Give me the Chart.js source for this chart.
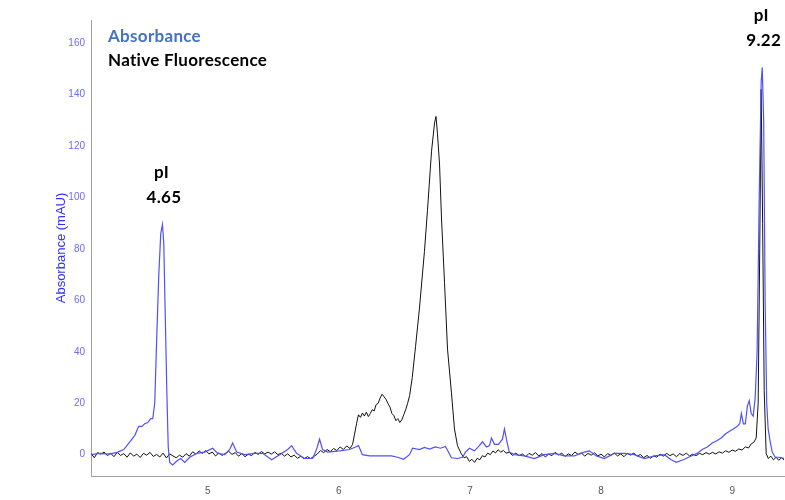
<!DOCTYPE html>
<html>
<head>
<meta charset="utf-8">
<script src="https://cdn.jsdelivr.net/npm/chart.js@4"></script>
<style>
  html, body { margin: 0; padding: 0; background: #fff; }
  .wrap { position: relative; width: 785px; height: 500px; }
</style>
</head>
<body>
<div class="wrap"><canvas id="chart-ief"></canvas></div>
<script>
// pI axis (x) and signal values
var absX = [4.11, 4.177, 4.253, 4.314, 4.36, 4.406, 4.444, 4.474, 4.497, 4.52, 4.543, 4.566, 4.581, 4.596, 4.611, 4.627, 4.642, 4.655, 4.665, 4.676, 4.688, 4.699, 4.71, 4.733, 4.764, 4.794, 4.825, 4.863, 4.916, 4.977, 5.038, 5.076, 5.13, 5.168, 5.19, 5.221, 5.282, 5.358, 5.419, 5.488, 5.549, 5.61, 5.64, 5.678, 5.739, 5.80, 5.83, 5.853, 5.876, 5.914, 6.006, 6.082, 6.128, 6.15, 6.18, 6.234, 6.31, 6.402, 6.448, 6.494, 6.539, 6.562, 6.615, 6.653, 6.691, 6.737, 6.775, 6.813, 6.836, 6.859, 6.905, 6.943, 6.966, 6.996, 7.034, 7.072, 7.095, 7.126, 7.149, 7.164, 7.187, 7.217, 7.248, 7.263, 7.278, 7.30, 7.339, 7.415, 7.491, 7.568, 7.644, 7.72, 7.796, 7.872, 7.91, 7.964, 8.025, 8.101, 8.178, 8.254, 8.33, 8.41, 8.482, 8.535, 8.573, 8.627, 8.688, 8.733, 8.771, 8.81, 8.848, 8.886, 8.916, 8.947, 8.977, 9.008, 9.038, 9.057, 9.07, 9.085, 9.10, 9.116, 9.13, 9.145, 9.16, 9.175, 9.19, 9.206, 9.221, 9.229, 9.24, 9.251, 9.263, 9.274, 9.29, 9.305, 9.328, 9.358, 9.396];
var absY = [0, 0.5, 0.2, 1, 2, 5, 7.5, 11, 11, 12, 12.5, 14, 14, 20, 45, 70, 86, 89.5, 82, 55, 25, 3, -3, -4, -2.5, -1.5, -3, -1, 0.5, 1, 2.5, 0.5, 0, 2, 4.5, 1, 0, 0.5, 0.5, -2, 0, 2, 3.5, 0.5, -1.5, -1.5, 2, 6, 2, 1, 1.5, 2, 3, 3.5, 0, -0.5, -0.5, -0.5, -1, -1.8, 0, 2.5, 2, 2.8, 2.2, 3, 2.5, 3.2, 1, -1.2, -1.5, -1, 1, 2.5, 1.5, 3.5, 5, 3, 3.5, 6.5, 4, 4, 6, 10, 6, 1, 0, -0.5, -1.5, 0, 0.5, -0.5, -0.5, 1, 1.5, -0.5, -1.5, 0.5, 0.5, 0, -1.5, -0.5, 0, -2, -3, -2, -0.5, 0.5, 2, 3, 4.5, 5.5, 6.5, 8, 9, 10, 11, 12, 16, 12, 12, 19, 21, 16, 15, 22, 40, 100, 145, 150.5, 130, 60, 20, 10, 5, 1, -1, -1, -1.5];

var fluX = [4.11, 4.135, 4.16, 4.185, 4.21, 4.235, 4.26, 4.285, 4.31, 4.335, 4.36, 4.385, 4.41, 4.435, 4.46, 4.485, 4.51, 4.535, 4.56, 4.585, 4.61, 4.635, 4.66, 4.685, 4.71, 4.735, 4.76, 4.785, 4.81, 4.835, 4.86, 4.885, 4.91, 4.935, 4.96, 4.985, 5.01, 5.035, 5.06, 5.085, 5.11, 5.135, 5.16, 5.185, 5.21, 5.235, 5.26, 5.285, 5.31, 5.335, 5.36, 5.385, 5.41, 5.435, 5.46, 5.485, 5.51, 5.535, 5.56, 5.585, 5.61, 5.635, 5.66, 5.685, 5.71, 5.735, 5.76, 5.785, 5.81, 5.835, 5.86, 5.885, 5.91, 5.935, 5.96, 5.985, 6.01, 6.035, 6.06, 6.085, 6.105,
  6.12, 6.135, 6.15, 6.165, 6.18, 6.195, 6.21, 6.225, 6.24, 6.255, 6.27, 6.285, 6.30, 6.315, 6.33, 6.345, 6.36, 6.375, 6.39, 6.405, 6.42, 6.435, 6.45, 6.465, 6.48, 6.495, 6.51, 6.525, 6.54, 6.56, 6.585, 6.615, 6.653, 6.676, 6.707, 6.73, 6.741, 6.752, 6.768, 6.783, 6.806, 6.829, 6.859, 6.882, 6.905, 6.935, 6.955, 6.975, 6.995, 7.015, 7.035, 7.055, 7.075, 7.095, 7.115, 7.135, 7.155, 7.175, 7.195, 7.215, 7.235, 7.255, 7.275, 7.30,
  7.325, 7.35, 7.375, 7.40, 7.425, 7.45, 7.475, 7.50, 7.525, 7.55, 7.575, 7.60, 7.625, 7.65, 7.675, 7.70, 7.725, 7.75, 7.775, 7.80, 7.825, 7.85, 7.875, 7.90, 7.925, 7.95, 7.975, 8.00, 8.025, 8.05, 8.075, 8.10, 8.125, 8.15, 8.175, 8.20, 8.225, 8.25, 8.275, 8.30, 8.325, 8.35, 8.375, 8.40, 8.425, 8.45, 8.475, 8.50, 8.525, 8.55, 8.575, 8.60, 8.625, 8.65, 8.675, 8.70, 8.725, 8.75, 8.775, 8.80, 8.825, 8.85, 8.875, 8.90, 8.925, 8.95, 8.975, 9.00, 9.025, 9.05, 9.075, 9.10, 9.125, 9.145, 9.165, 9.183, 9.198, 9.21, 9.221, 9.232, 9.244, 9.259, 9.275, 9.295, 9.315, 9.335, 9.355, 9.375, 9.395];
var fluY = [0.5, -1.2, 0.8, 0.2, 1.0, -0.4, 0.6, -0.8, 0.9, -0.3, 0.4, -1.0, 0.7, -0.6, 0.2, -1.1, 0.5, -0.2, 0.9, -0.7, 0.1, -0.9, 0.6, -1.3, 0.3, -0.5, -1.2, -0.2, -1.0, 0.4, -0.6, 1.1, 0.2, 1.4, 0.5, 1.6, 0.3, 1.0, -0.5, 0.7, -0.3, 0.5, 1.3, 0.1, 0.8, -0.6, 0.4, -0.8, 0.2, -0.4, 0.9, 0.1, 1.2, 0.3, 1.0, 0.2, 1.1, 0.0, 0.6, -0.6, 0.3, -0.9, -0.2, -1.4, -0.6, -1.6, -0.8, -1.5, -0.7, 0.2, 1.6, 0.8, 2.0, 1.2, 2.4, 1.6, 3.0, 2.0, 3.4, 2.4, 4.0,
  8, 12, 15.5, 14.5, 16.2, 15, 16.5, 14.8, 16, 17.5, 17, 19.5, 20, 22, 23.5, 22.5, 21.5, 19.8, 18.5, 16, 15.2, 13.2, 14, 12.5, 13.5, 15.5, 17.5, 20, 23, 30, 42, 57, 79, 95, 118, 129, 131.5, 125, 113, 92, 67, 41, 24, 10, 3.5, 0.2, -1.2, -0.8, -2.6, -1.8, -3.0, -1.4, -2.0, -0.4, -0.9, 0.6, 0.0, 1.4, 0.7, 1.9, 1.0, 1.6, 0.6, 0.9,
  -0.3, 0.6, -0.4, 0.3, -0.8, 0.5, -0.2, 0.8, -0.5, 0.4, -0.9, 0.2, -0.4, 0.9, -0.1, 0.6, -0.7, 0.3, -0.3, 1.0, 0.1, 0.7, -0.6, 0.5, -0.2, 0.8, -0.5, 0.2, -0.9, 0.4, -0.3, 0.7, -0.5, 0.3, -0.8, 0.5, -0.2, 0.6, -0.6, 0.1, -1.2, -0.3, -1.4, -0.5, -1.0, 0.2, -0.6, 0.5, -0.4, 0.3, -0.8, 0.4, -0.3, 0.6, -0.5, 0.2, -0.4, 0.5, 0.0, 0.8, 0.2, 0.9, 0.3, 1.1, 0.6, 1.5, 0.9, 1.8, 1.3, 2.2, 1.8, 3.0, 2.6, 4.2, 4.8, 6.5, 20, 80, 142, 90, 25, 0.5, -1.5, -0.6, -2.0, -1.0, -2.2, -1.2, -2.0];

var seriesNames = ['Absorbance', 'Native Fluorescence'];
var peakX = [4.655, 9.229];
var peakY = [89.5, 150.5];
var peakText = ['4.65', '9.22'];

(function () {
  var canvas = document.getElementById('chart-ief');
  if (!canvas || typeof Chart === 'undefined') {
    return;
  }

  var labelFont = 'bold 17px Lato, "Open Sans", sans-serif';

  function toPoints(xs, ys) {
    return xs.map(function (x, i) {
      return { x: x, y: ys[i] };
    });
  }

  function keepSteps(step) {
    return function (scale) {
      scale.ticks = scale.ticks.filter(function (t) {
        return Math.abs(t.value / step - Math.round(t.value / step)) < 1e-6;
      });
    };
  }

  // series names top-left, pI callouts above the two marker peaks
  var textPlugin = {
    id: 'iefText',
    afterDatasetsDraw: function (chart) {
      var ctx = chart.ctx;
      var area = chart.chartArea;
      var xs = chart.scales.x;
      var ys = chart.scales.y;
      ctx.save();
      ctx.font = labelFont;
      if ('letterSpacing' in ctx) {
        ctx.letterSpacing = '0.3px';
      }
      ctx.textBaseline = 'middle';
      ctx.textAlign = 'left';
      ctx.fillStyle = '#4472c4';
      ctx.fillText(seriesNames[0], area.left + 17, area.top + 17);
      ctx.fillStyle = '#000';
      ctx.fillText(seriesNames[1], area.left + 17, area.top + 41);
      ctx.textAlign = 'center';
      peakX.forEach(function (px, i) {
        var cx = xs.getPixelForValue(px);
        var cy = ys.getPixelForValue(peakY[i]);
        ctx.fillText('pI', cx - 1, cy - 52);
        ctx.fillText(peakText[i], cx + 1.5, cy - 27);
      });
      ctx.restore();
    },
  };

  new Chart(canvas, {
    type: 'line',
    data: {
      datasets: [
        {
          label: seriesNames[0],
          data: toPoints(absX, absY),
          borderColor: '#5050ff',
          borderWidth: 1.2,
          pointRadius: 0,
          tension: 0,
          fill: false,
        },
        {
          label: seriesNames[1],
          data: toPoints(fluX, fluY),
          borderColor: '#111',
          borderWidth: 1,
          pointRadius: 0,
          tension: 0,
          fill: false,
        },
      ],
    },
    options: {
      responsive: true,
      maintainAspectRatio: false,
      animation: false,
      layout: { padding: { top: 20, right: 1, left: 0, bottom: 0 } },
      plugins: {
        legend: { display: false },
        tooltip: { enabled: false },
      },
      scales: {
        x: {
          type: 'linear',
          min: 4.11,
          max: 9.395,
          afterBuildTicks: keepSteps(1),
          afterFit: function (s) { s.height = 24; },
          grid: { display: false, drawTicks: false },
          border: { display: true, color: '#a0a0a0', width: 1 },
          ticks: {
            stepSize: 1,
            padding: 9,
            color: '#555',
            font: { family: '"Liberation Sans", Arial, sans-serif', size: 10 },
          },
        },
        y: {
          min: -8.3,
          max: 169,
          afterBuildTicks: keepSteps(20),
          afterFit: function (s) { s.width = 91; },
          grid: { display: false, drawTicks: false },
          border: { display: true, color: '#a0a0a0', width: 1 },
          ticks: {
            stepSize: 20,
            padding: 6,
            color: '#6a6aff',
            font: { family: '"Liberation Sans", Arial, sans-serif', size: 10 },
          },
          title: {
            display: true,
            text: 'Absorbance (mAU)',
            color: '#3030ff',
            padding: { top: 54, bottom: 0 },
            font: { family: '"Liberation Sans", Arial, sans-serif', size: 13 },
          },
        },
      },
    },
    plugins: [textPlugin],
  });
})();
</script>
</body>
</html>
